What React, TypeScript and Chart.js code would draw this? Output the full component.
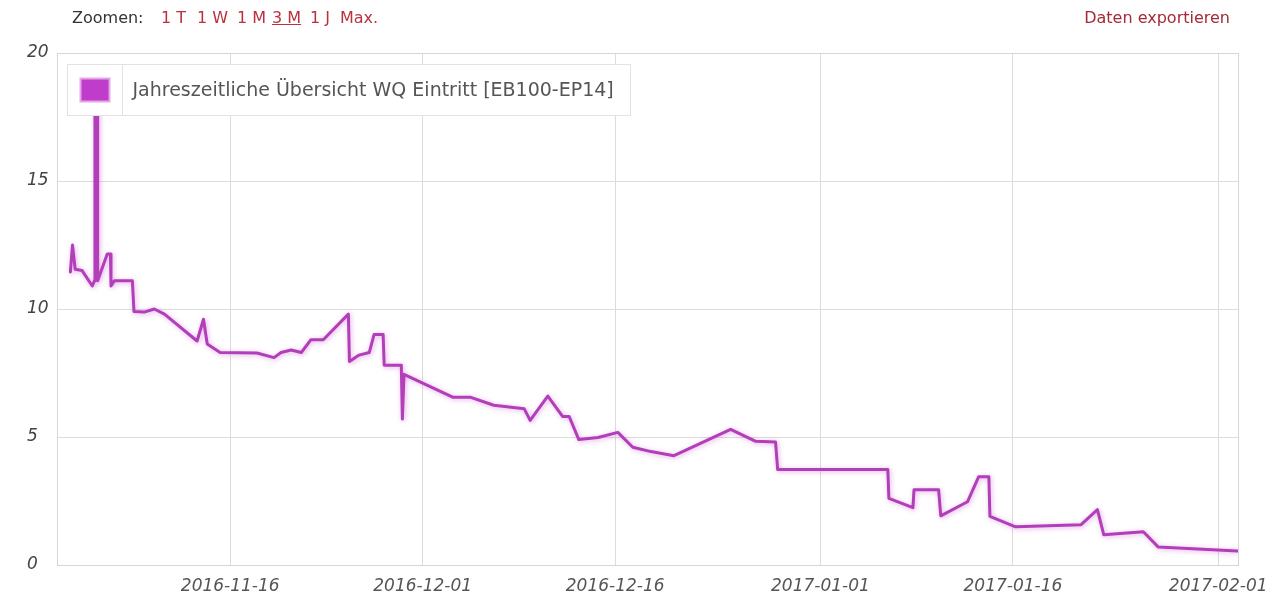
import React, { useEffect, useRef } from "react";
import { Chart, registerables } from "chart.js";

Chart.register(...registerables);

const seriesName = "Jahreszeitliche Übersicht WQ Eintritt [EB100-EP14]";

const pointDates: string[] = [
  "2016-11-03T13:00", "2016-11-03T17:00", "2016-11-03T22:00", "2016-11-04T11:00",
  "2016-11-05T06:00", "2016-11-05T10:00", "2016-11-05T11:00", "2016-11-05T15:00",
  "2016-11-05T16:00", "2016-11-06T10:00", "2016-11-06T16:00", "2016-11-06T17:00",
  "2016-11-06T23:00", "2016-11-08T09:00", "2016-11-08T12:00", "2016-11-09T07:00",
  "2016-11-10T02:00", "2016-11-10T21:00", "2016-11-13T10:00", "2016-11-13T22:00",
  "2016-11-14T05:00", "2016-11-15T05:00", "2016-11-18T02:00", "2016-11-19T10:00",
  "2016-11-19T23:00", "2016-11-20T18:00", "2016-11-21T13:00", "2016-11-22T07:00",
  "2016-11-23T06:00", "2016-11-25T05:00", "2016-11-25T07:00", "2016-11-26T01:00",
  "2016-11-26T20:00", "2016-11-27T05:00", "2016-11-27T22:00", "2016-11-28T00:00",
  "2016-11-29T08:00", "2016-11-29T10:00", "2016-11-29T13:00", "2016-12-03T09:00",
  "2016-12-04T18:00", "2016-12-06T13:00", "2016-12-08T22:00", "2016-12-09T09:00",
  "2016-12-10T18:00", "2016-12-11T22:00", "2016-12-12T10:00", "2016-12-13T04:00",
  "2016-12-14T16:00", "2016-12-16T05:00", "2016-12-17T09:00", "2016-12-18T19:00",
  "2016-12-20T14:00", "2016-12-25T00:00", "2016-12-26T23:00", "2016-12-28T12:00",
  "2016-12-28T16:00", "2017-01-06T06:00", "2017-01-06T08:00", "2017-01-08T05:00",
  "2017-01-08T07:00", "2017-01-10T05:00", "2017-01-10T09:00", "2017-01-12T11:00",
  "2017-01-13T08:00", "2017-01-14T03:00", "2017-01-14T05:00", "2017-01-16T05:00",
  "2017-01-21T07:00", "2017-01-22T14:00", "2017-01-23T02:00", "2017-01-26T04:00",
  "2017-01-27T08:00", "2017-02-02T12:00",
];

const wqValues: number[] = [
  11.45, 12.5, 11.55, 11.5,
  10.9, 11.1, 17.8, 17.8,
  11.1, 12.15, 12.15, 10.9,
  11.1, 11.1, 9.9, 9.88,
  10.0, 9.8, 8.75, 9.6,
  8.63, 8.3, 8.28, 8.1,
  8.3, 8.4, 8.3, 8.8,
  8.8, 9.8, 7.95, 8.2,
  8.3, 9.0, 9.0, 7.8,
  7.8, 5.7, 7.45, 6.55,
  6.55, 6.24, 6.1, 5.65,
  6.6, 5.8, 5.8, 4.9,
  4.98, 5.18, 4.6, 4.43,
  4.27, 5.3, 4.83, 4.8,
  3.73, 3.73, 2.6, 2.24,
  2.94, 2.94, 1.92, 2.47,
  3.45, 3.45, 1.9, 1.49,
  1.57, 2.16, 1.18, 1.3,
  0.7, 0.55,
];

const xTickLabels: string[] = ["2016-11-16", "2016-12-01", "2016-12-16", "2017-01-01", "2017-01-16", "2017-02-01"];
const xRange: string[] = ["2016-11-02T12:00", "2017-02-02T13:00"];
const yTicks: number[] = [0, 5, 10, 15, 20];

const zoomLinks: string[] = ["1 T", "1 W", "1 M", "3 M", "1 J", "Max."];
const activeZoom = "3 M";
const exportLabel = "Daten exportieren";

const toMs = (s: string) => Date.parse(s.length <= 10 ? s + "T00:00:00Z" : s + ":00Z");

const FONT = "'DejaVu Sans', Verdana, sans-serif";
const LINE_COLOR = "#b23eba";

const shadowPlugin = {
  id: "lineShadow",
  beforeDatasetDraw(chart: any) {
    const ctx = chart.ctx;
    ctx.save();
    ctx.shadowColor = "rgba(190, 70, 200, 0.45)";
    ctx.shadowBlur = 5;
    ctx.shadowOffsetX = 1;
    ctx.shadowOffsetY = 1;
  },
  afterDatasetDraw(chart: any) {
    chart.ctx.restore();
  },
};

const frameLegendPlugin = {
  id: "frameLegend",
  afterDraw(chart: any) {
    const ctx = chart.ctx;
    const a = chart.chartArea;
    ctx.save();
    ctx.strokeStyle = "#d6d6d6";
    ctx.lineWidth = 1;
    ctx.strokeRect(Math.round(a.left) + 0.5, Math.round(a.top) + 0.5, Math.round(a.right - a.left), Math.round(a.bottom - a.top));

    // legend box inside plot
    const lx = a.left + 10.5;
    const ly = a.top + 11.5;
    const lw = 563;
    const lh = 51;
    ctx.fillStyle = "#ffffff";
    ctx.fillRect(lx, ly, lw, lh);
    ctx.strokeStyle = "#e2e2e2";
    ctx.strokeRect(lx, ly, lw, lh);
    // separator
    ctx.beginPath();
    ctx.moveTo(lx + 55, ly);
    ctx.lineTo(lx + 55, ly + lh);
    ctx.stroke();
    // symbol
    ctx.fillStyle = "#e3a6e8";
    ctx.fillRect(lx + 12, ly + 13, 31, 25);
    ctx.fillStyle = "#c03ccb";
    ctx.fillRect(lx + 14, ly + 15, 27, 21);
    // text
    ctx.fillStyle = "#555555";
    ctx.font = `19px ${FONT}`;
    ctx.textBaseline = "middle";
    ctx.textAlign = "left";
    ctx.fillText(seriesName, lx + 65, ly + lh / 2 + 1);
    ctx.restore();
  },
};

export default function App() {
  const canvasRef = useRef<HTMLCanvasElement | null>(null);

  useEffect(() => {
    if (!canvasRef.current) return;
    const data = pointDates.map((d, i) => ({ x: toMs(d), y: wqValues[i] }));
    const chart = new Chart(canvasRef.current, {
      type: "line",
      data: {
        datasets: [
          {
            label: seriesName,
            data,
            borderColor: LINE_COLOR,
            backgroundColor: LINE_COLOR,
            borderWidth: 3,
            pointRadius: 0,
            tension: 0,
            borderJoinStyle: "round",
            borderCapStyle: "round",
          },
        ],
      },
      options: {
        animation: false,
        responsive: false,
        devicePixelRatio: 1,
        layout: { padding: { left: 27, top: 53, right: 42, bottom: 0 } },
        plugins: { legend: { display: false }, tooltip: { enabled: false } },
        scales: {
          x: {
            type: "linear",
            min: toMs(xRange[0]),
            max: toMs(xRange[1]),
            grid: { color: "#dcdcdc", drawTicks: false },
            border: { display: false },
            afterBuildTicks: (scale: any) => {
              scale.ticks = xTickLabels.map((t) => ({ value: toMs(t) }));
            },
            afterFit: (scale: any) => {
              scale.height = 43;
            },
            ticks: {
              autoSkip: false,
              maxRotation: 0,
              padding: 11,
              color: "#555555",
              font: { family: FONT, size: 17, style: "italic" },
              callback: (_v: any, i: number) => xTickLabels[i],
            },
          },
          y: {
            type: "linear",
            min: 0,
            max: 20,
            grid: { color: "#dcdcdc", drawTicks: false },
            border: { display: false },
            afterBuildTicks: (scale: any) => {
              scale.ticks = yTicks.map((v) => ({ value: v }));
            },
            afterFit: (scale: any) => {
              scale.width = 30;
            },
            ticks: {
              crossAlign: "far",
              padding: 0,
              color: "#444444",
              font: { family: FONT, size: 17, style: "italic" },
              callback: (v: any) => String(v),
            },
          },
        },
      },
      plugins: [shadowPlugin, frameLegendPlugin],
    } as any);
    return () => chart.destroy();
  }, []);

  const linkLeft = [161, 197, 237, 272, 310, 340];

  return (
    <div style={{ position: "fixed", left: 0, top: 0, width: 1280, height: 608, background: "#fff", fontFamily: FONT }}>
      <canvas ref={canvasRef} width={1280} height={608} style={{ position: "absolute", left: 0, top: 0, width: 1280, height: 608 }} />
      <div style={{ position: "absolute", left: 72, top: 8, fontSize: 16, lineHeight: "20px", color: "#333", whiteSpace: "nowrap" }}>
        Zoomen:
      </div>
      {zoomLinks.map((z, i) => (
        <div
          key={z}
          style={{
            position: "absolute",
            left: linkLeft[i],
            top: 8,
            fontSize: 16,
            lineHeight: "20px",
            color: "#b8323f",
            whiteSpace: "nowrap",
            textDecoration: z === activeZoom ? "underline" : "none",
          }}
        >
          {z}
        </div>
      ))}
      <div style={{ position: "absolute", right: 50, top: 8, fontSize: 16, lineHeight: "20px", color: "#a52a3a", whiteSpace: "nowrap" }}>
        {exportLabel}
      </div>
    </div>
  );
}
